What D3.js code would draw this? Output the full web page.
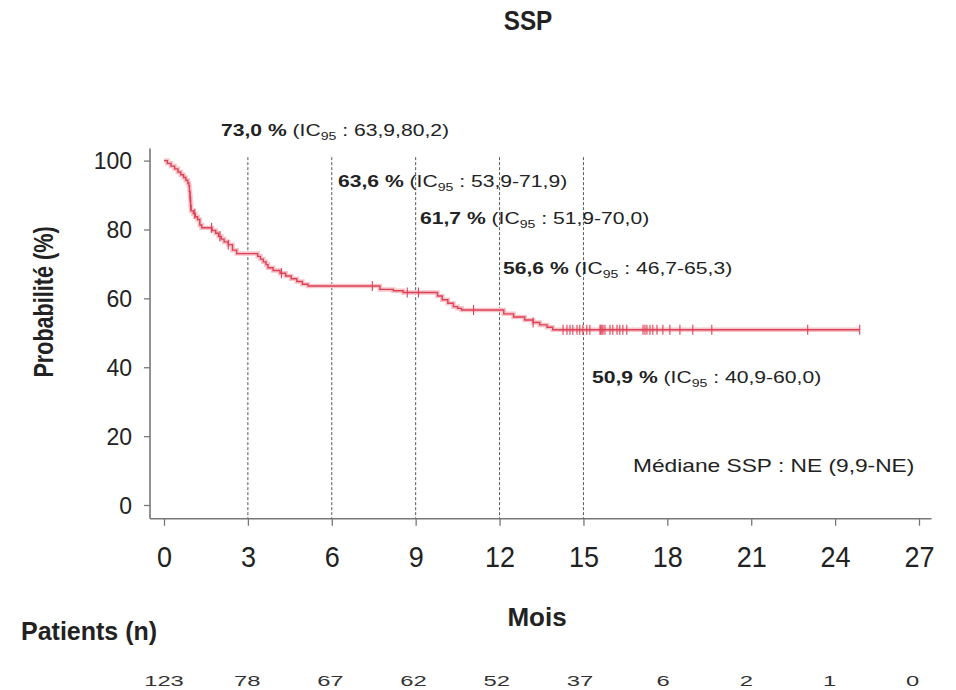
<!DOCTYPE html>
<html>
<head>
<meta charset="utf-8">
<script src="https://cdn.jsdelivr.net/npm/d3@7"></script>
<style>
  html, body { margin: 0; padding: 0; background: #fff; }
  svg { display: block; }
  text { font-family: "Liberation Sans", Arial, sans-serif; fill: #222; }
</style>
</head>
<body>
<svg id="chart" width="956" height="690"></svg>
<script>
// Kaplan-Meier steps: month of each drop and survival (%) after it
const stepTimes = [0.12, 0.25, 0.38, 0.5, 0.6, 0.7, 0.78, 0.85,
  0.89, 0.91, 0.93, 0.95, 0.97,
  1.05, 1.12, 1.2, 1.28, 1.35,
  1.72, 1.85, 1.95, 2.05, 2.15, 2.3, 2.45, 2.6,
  3.35, 3.45, 3.55, 3.65, 3.72, 3.9, 4.15,
  4.35, 4.55, 4.75, 4.95, 5.15,
  7.72, 8.2, 8.55,
  9.78, 9.95, 10.15, 10.35, 10.5, 10.64,
  12.15, 12.5, 12.9, 13.2, 13.44, 13.7, 13.9];
const stepSurv = [99.2, 98.4, 97.6, 96.7, 95.9, 95.1, 94.3, 93.5,
  92.7, 91.1, 89.4, 87.0, 85.4,
  84.6, 83.7, 82.9, 81.3, 80.5,
  79.7, 78.9, 78.0, 77.2, 76.4, 75.6, 74.0, 73.0,
  72.2, 71.4, 70.6, 69.8, 68.9, 68.1, 67.3,
  66.5, 65.7, 64.9, 64.1, 63.6,
  62.6, 62.2, 61.7,
  60.7, 59.6, 58.6, 57.6, 57.1, 56.6,
  55.5, 54.6, 53.7, 53.0, 52.3, 51.6, 50.9];
const lastFollowUp = 24.88;

// Censored observations (months)
const censorTimes = [0.93, 0.95, 1.1, 1.7, 2.0, 2.3, 4.2, 7.45, 8.7, 9.1, 11.07, 13.2,
  14.27, 14.41, 14.52, 14.62, 14.77, 14.87, 14.98, 15.12, 15.23, 15.59, 15.62, 15.66,
  15.7, 15.77, 15.95, 16.05, 16.2, 16.3, 16.41, 16.55, 17.13, 17.2, 17.27, 17.38,
  17.48, 17.63, 17.84, 18.09, 18.45, 18.91, 19.59, 23.02, 24.88];

// Landmark estimates
const landmarkMonths = [3, 6, 9, 12, 15];
const landmarkSurv = [73.0, 63.6, 61.7, 56.6, 50.9];
const landmarkCI = ["63,9,80,2", "53,9-71,9", "51,9-70,0", "46,7-65,3", "40,9-60,0"];
const medianText = "Médiane SSP : NE (9,9-NE)";

// Axis ticks and number at risk
const xTicks = [0, 3, 6, 9, 12, 15, 18, 21, 24, 27];
const yTicks = [0, 20, 40, 60, 80, 100];
const atRisk = [123, 78, 67, 62, 52, 37, 6, 2, 1, 0];

const svg = d3.select("#chart");
const x = d3.scaleLinear().domain([0, 27]).range([164, 919]);
const y = d3.scaleLinear().domain([0, 100]).range([505, 160.6]);
const axisY = y(-4);      // baseline of the horizontal axis
const axisX = x(-0.5);    // position of the vertical axis
const red = "#dc4257";

// title
svg.append("text")
  .attr("transform", "translate(528,30) scale(0.9,1)")
  .attr("text-anchor", "middle")
  .attr("font-size", 27).attr("font-weight", "bold").text("SSP");

// landmark dashed verticals
svg.append("g").selectAll("line").data(landmarkMonths).join("line")
  .attr("x1", d => x(d)).attr("x2", d => x(d))
  .attr("y1", y(101)).attr("y2", axisY)
  .attr("stroke", "#444").attr("stroke-width", 0.9)
  .attr("stroke-dasharray", "3,2");

// axes
const gx = svg.append("g").attr("transform", `translate(0,${axisY})`)
  .call(d3.axisBottom(x).tickValues(xTicks).tickSize(7).tickSizeOuter(0).tickFormat(d3.format("d")));
gx.select(".domain").remove();
gx.selectAll(".tick line").attr("stroke", "#777").attr("stroke-width", 1.3);
gx.selectAll(".tick text").attr("font-size", 30).attr("fill", "#222")
  .attr("y", 48).attr("dy", 0).attr("transform", "scale(0.9,1)")
  .style("font-family", null);
gx.append("line").attr("x1", axisX).attr("x2", x(27.45)).attr("y1", 0).attr("y2", 0)
  .attr("stroke", "#777").attr("stroke-width", 1.6);

const gy = svg.append("g").attr("transform", `translate(${axisX},0)`)
  .call(d3.axisLeft(y).tickValues(yTicks).tickSize(6).tickSizeOuter(0).tickPadding(12));
gy.select(".domain").remove();
gy.selectAll(".tick line").attr("stroke", "#777").attr("stroke-width", 1.3);
gy.selectAll(".tick text").attr("font-size", 23).attr("fill", "#222").attr("dy", "0.36em")
  .style("font-family", null);
gy.append("line").attr("x1", 0).attr("x2", 0).attr("y1", y(103.5)).attr("y2", axisY)
  .attr("stroke", "#777").attr("stroke-width", 1.6);

// axis titles
svg.append("text")
  .attr("transform", "translate(53,302) rotate(-90) scale(0.8,1)")
  .attr("text-anchor", "middle").attr("font-size", 27).attr("font-weight", "bold")
  .text("Probabilité (%)");
svg.append("text")
  .attr("x", 537).attr("y", 626).attr("text-anchor", "middle")
  .attr("font-size", 26).attr("font-weight", "bold").text("Mois");
svg.append("text")
  .attr("x", 21).attr("y", 640)
  .attr("font-size", 25).attr("font-weight", "bold").text("Patients (n)");

// survival curve
const pts = [[0, 100]];
stepTimes.forEach((t, i) => pts.push([t, stepSurv[i]]));
pts.push([lastFollowUp, stepSurv[stepSurv.length - 1]]);
const line = d3.line().x(d => x(d[0])).y(d => y(d[1])).curve(d3.curveStepAfter);
svg.append("path").datum(pts).attr("d", line)
  .attr("fill", "none").attr("stroke", "#f6c3c9").attr("stroke-width", 4.5);
svg.append("path").datum(pts).attr("d", line)
  .attr("fill", "none").attr("stroke", red).attr("stroke-width", 1.4);

// survival at a given time (step function)
function survAt(t) {
  let s = 100;
  for (let i = 0; i < stepTimes.length; i++) if (stepTimes[i] <= t) s = stepSurv[i];
  return s;
}
svg.append("g").selectAll("line").data(censorTimes).join("line")
  .attr("x1", d => x(d)).attr("x2", d => x(d))
  .attr("y1", d => y(survAt(d)) - 5).attr("y2", d => y(survAt(d)) + 5)
  .attr("stroke", red).attr("stroke-width", 1.1);

// landmark labels (text drawn slightly widened)
const labelPos = [[221, 136], [338, 187], [420, 224], [503, 274], [592, 383]];
landmarkMonths.forEach((m, i) => {
  const t = svg.append("text")
    .attr("transform", `translate(${labelPos[i][0]},${labelPos[i][1]}) scale(1.28,1)`)
    .attr("font-size", 16.5);
  t.append("tspan").attr("font-weight", "bold")
    .text(d3.format(".1f")(landmarkSurv[i]).replace(".", ",") + " %");
  t.append("tspan").text(" (IC");
  t.append("tspan").attr("font-size", 11).attr("dy", 4).text("95");
  t.append("tspan").attr("dy", -4).text(" : " + landmarkCI[i] + ")");
});
svg.append("text")
  .attr("transform", "translate(633,472) scale(1.3,1)")
  .attr("font-size", 17.5).text(medianText);

// number at risk
svg.append("g").selectAll("text").data(atRisk).join("text")
  .attr("transform", (d, i) => `translate(${x(xTicks[i]) - i * 0.7},686) scale(1.7,1)`)
  .attr("text-anchor", "middle").attr("font-size", 14)
  .style("fill", "#333")
  .text(d => d);
</script>
</body>
</html>
